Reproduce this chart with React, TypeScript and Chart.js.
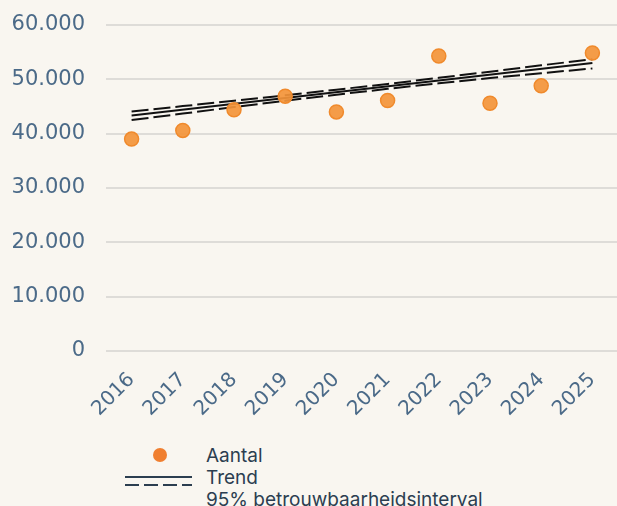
import React, { useEffect, useRef } from "react";
import { Chart, registerables } from "chart.js";

Chart.register(...registerables);

const years = ["2016", "2017", "2018", "2019", "2020", "2021", "2022", "2023", "2024", "2025"];
const aantal = [39000, 40600, 44400, 46900, 44000, 46100, 54300, 45600, 48800, 54850];
const trendYears = ["2016", "2025"];
const trendValues = [43350, 53000];
const ciUpper = [44100, 45070, 46050, 47060, 48090, 49160, 50270, 51410, 52580, 53700];
const ciLower = [42500, 43700, 44890, 46050, 47180, 48250, 49270, 50240, 51130, 52000];
const yTicks = [0, 10000, 20000, 30000, 40000, 50000, 60000];

const BG = "#f9f6f0";
const TICK = "#4b6a88";
const NAVY = "#2c3e50";

const fmt = (v: number) => String(Math.round(v)).replace(/\B(?=(\d{3})+(?!\d))/g, ".");

export default function App() {
  const ref = useRef<HTMLCanvasElement | null>(null);

  useEffect(() => {
    if (!ref.current) return;
    const line = (xs: string[], vals: number[], dash: number[]) => ({
      type: "line" as const,
      data: xs.map((x, i) => ({ x, y: vals[i] })),
      borderColor: "#111111",
      borderWidth: 2,
      borderDash: dash,
      pointRadius: 0,
      tension: 0,
      fill: false,
    });
    const chart = new Chart(ref.current, {
      type: "line",
      data: {
        labels: years,
        datasets: [
          {
            type: "line",
            label: "Aantal",
            data: aantal,
            showLine: false,
            pointRadius: 7,
            pointHoverRadius: 7,
            pointBackgroundColor: "rgba(243,148,58,0.92)",
            pointBorderColor: "#f08a2c",
            pointBorderWidth: 1.5,
          } as any,
          { label: "Trend", ...line(trendYears, trendValues, []) },
          { label: "CI boven", ...line(years, ciUpper, [17, 5]) },
          { label: "CI onder", ...line(years, ciLower, [17, 5]) },
        ],
      },
      options: {
        animation: false,
        responsive: false,
        maintainAspectRatio: false,
        layout: { autoPadding: false, padding: { top: 25, left: 0, right: 0, bottom: 0 } },
        plugins: { legend: { display: false }, tooltip: { enabled: false } },
        scales: {
          x: {
            type: "category",
            offset: true,
            grid: { display: false },
            border: { display: false },
            ticks: {
              color: TICK,
              font: { family: "DejaVu Sans", size: 20 },
              minRotation: 45,
              maxRotation: 45,
              padding: 9,
            },
            afterFit: (s: any) => {
              s.height = 79;
              s.paddingLeft = 0;
              s.paddingRight = 0;
            },
          },
          y: {
            min: 0,
            max: 60000,
            border: { display: false },
            grid: { color: "#dedcd8", lineWidth: 2, drawTicks: false },
            afterBuildTicks: (s: any) => {
              s.ticks = yTicks.map((v) => ({ value: v }));
            },
            ticks: {
              color: TICK,
              font: { family: "DejaVu Sans", size: 21 },
              padding: 21,
              callback: (v: any) => fmt(Number(v)),
            },
            afterFit: (s: any) => {
              s.width = 106;
              s.paddingTop = 0;
              s.paddingBottom = 0;
            },
          },
        },
      },
    } as any);
    return () => chart.destroy();
  }, []);

  const txt: React.CSSProperties = {
    position: "absolute",
    left: 206,
    fontFamily: "Inter, 'Open Sans', sans-serif",
    fontSize: 19,
    lineHeight: "22px",
    color: NAVY,
    whiteSpace: "nowrap",
  };

  return (
    <div
      style={{
        position: "fixed",
        left: 0,
        top: 0,
        width: 617,
        height: 506,
        overflow: "hidden",
        background: BG,
      }}
    >
      <canvas ref={ref} width={618} height={430} style={{ position: "absolute", left: 0, top: 0 }} />
      <div
        style={{
          position: "absolute",
          left: 153,
          top: 448,
          width: 14,
          height: 14,
          borderRadius: "50%",
          background: "#f07f30",
        }}
      />
      <div style={{ position: "absolute", left: 125, top: 475.5, width: 67, height: 2.5, background: NAVY }} />
      <div
        style={{
          position: "absolute",
          left: 125,
          top: 483.5,
          width: 67,
          height: 2.5,
          background: `repeating-linear-gradient(to right, ${NAVY} 0 14px, transparent 14px 19px)`,
        }}
      />
      <div style={{ ...txt, top: 445 }}>Aantal</div>
      <div style={{ ...txt, top: 467 }}>Trend</div>
      <div style={{ ...txt, top: 489 }}>95% betrouwbaarheidsinterval</div>
    </div>
  );
}
